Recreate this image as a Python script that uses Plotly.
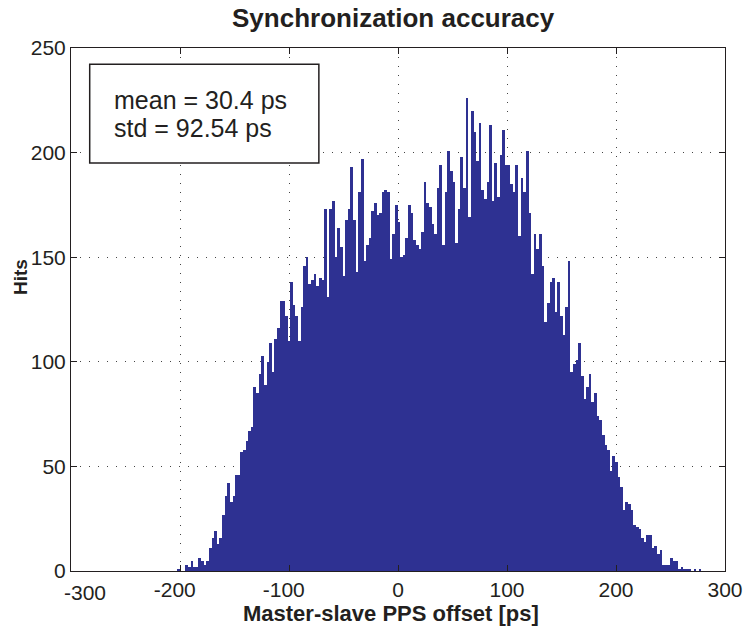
import numpy as np
import plotly.graph_objects as go

# ---- data ----
BIN_LO = -202.3   # left edge of first bin [ps]
BIN_HI = 278.4    # right edge of last bin [ps]
hits = [
    1, 0, 0, 3, 2, 5, 2, 2, 6, 5,
    3, 5, 11, 16, 19, 13, 16, 27, 36, 42,
    33, 36, 46, 46, 57, 58, 62, 67, 69, 88,
    85, 94, 103, 89, 100, 109, 95, 111, 116, 129,
    129, 122, 110, 138, 127, 122, 110, 126, 146, 150,
    137, 139, 142, 136, 140, 139, 173, 131, 173, 177,
    150, 164, 155, 141, 168, 173, 193, 168, 143, 181,
    197, 148, 156, 159, 172, 176, 170, 171, 181, 182,
    181, 149, 161, 175, 167, 150, 151, 159, 175, 171,
    158, 156, 154, 162, 186, 176, 174, 166, 161, 183,
    194, 156, 181, 201, 191, 186, 157, 173, 198, 183,
    226, 169, 220, 210, 196, 214, 182, 178, 186, 213,
    177, 195, 179, 199, 211, 194, 194, 185, 181, 194,
    160, 188, 181, 201, 171, 142, 161, 154, 161, 146,
    119, 128, 138, 140, 124, 138, 122, 113, 126, 148,
    95, 99, 101, 109, 93, 82, 88, 94, 81, 85,
    74, 72, 65, 60, 58, 48, 55, 52, 45, 40,
    29, 33, 32, 29, 22, 21, 20, 16, 14, 17,
    17, 11, 12, 8, 10, 3, 3, 3, 6, 5,
    5, 1, 2, 1, 1, 1, 0, 1, 0, 1,
]
x_tick_vals = [-300, -200, -100, 0, 100, 200, 300]
x_tick_text = ["-300", "-200", "-100", "0", "100", "200", "300"]
y_tick_vals = [0, 50, 100, 150, 200, 250]
y_tick_text = ["0", "50", "100", "150", "200", "250"]
title_text = "Synchronization accuracy"
x_label = "Master-slave PPS offset [ps]"
y_label = "Hits"
stats_lines = ["mean = 30.4 ps", "std = 92.54 ps"]

# ---- figure ----
n = len(hits)
edges = np.linspace(BIN_LO, BIN_HI, n + 1)
centers = (edges[:-1] + edges[1:]) / 2
bw = edges[1] - edges[0]

FONT = "Liberation Sans, Arial, Helvetica, sans-serif"
TXT = "#231f20"
BAR = "#2e3192"

fig = go.Figure()
fig.add_trace(go.Bar(
    x=centers, y=hits, width=bw,
    marker=dict(color=BAR, line=dict(width=0)),
    hoverinfo="x+y", showlegend=False,
))

axis_common = dict(
    showline=True, linecolor="#231f20", linewidth=1, mirror="ticks",
    ticks="inside", ticklen=6, tickcolor="#231f20", tickwidth=1,
    showgrid=True, gridcolor="#444444", gridwidth=1, griddash="1px,8px",
    zeroline=False,
    tickfont=dict(family=FONT, size=21, color=TXT),
)

# first x tick label is drawn separately (shifted right, as in the reference)
shown_x_text = [""] + [t + ("\u2002" if t.startswith("-") else "") for t in x_tick_text[1:]]

fig.update_layout(
    width=755, height=630,
    margin=dict(l=71, r=19, t=48, b=59),
    paper_bgcolor="white", plot_bgcolor="white",
    bargap=0,
    xaxis=dict(range=[-300, 300], tickmode="array", tickvals=x_tick_vals,
               ticktext=shown_x_text, **axis_common),
    yaxis=dict(range=[0, 250], tickmode="array", tickvals=y_tick_vals,
               ticktext=y_tick_text, **axis_common),
    font=dict(family=FONT, color=TXT),
)

fig.add_annotation(text=x_tick_text[0], x=x_tick_vals[0], xref="x", yref="paper",
                   y=0, yanchor="top", yshift=-8, xanchor="center", xshift=14,
                   showarrow=False, font=dict(family=FONT, size=21, color=TXT))

# title
fig.add_annotation(text="<b>" + title_text + "</b>", xref="paper", yref="paper",
                   x=0.4925, y=1.057, xanchor="center", yanchor="middle",
                   showarrow=False, font=dict(family=FONT, size=26, color=TXT))
# x label
fig.add_annotation(text="<b>" + x_label + "</b>", xref="paper", yref="paper",
                   x=0.489, y=-0.082, xanchor="center", yanchor="middle",
                   showarrow=False, font=dict(family=FONT, size=22, color=TXT))
# y label
fig.add_annotation(text="<b>" + y_label + "</b>", xref="paper", yref="paper",
                   x=-0.078, y=0.562, xanchor="center", yanchor="middle",
                   textangle=-90, showarrow=False,
                   font=dict(family=FONT, size=19, color=TXT))

# stats box
fig.add_shape(type="rect", xref="paper", yref="paper",
              x0=0.0286, x1=0.379, y0=0.780, y1=0.969,
              line=dict(color="#231f20", width=1.5), fillcolor="white",
              layer="above")
for txt, yy in zip(stats_lines, [0.9006, 0.847]):
    fig.add_annotation(text=txt, xref="paper", yref="paper",
                       x=0.063, y=yy, xanchor="left", yanchor="middle",
                       showarrow=False, font=dict(family=FONT, size=25, color=TXT))

fig.write_html("out.html", config={"displayModeBar": False},
               post_script="document.body.style.margin='0';document.body.style.overflow='hidden';")
